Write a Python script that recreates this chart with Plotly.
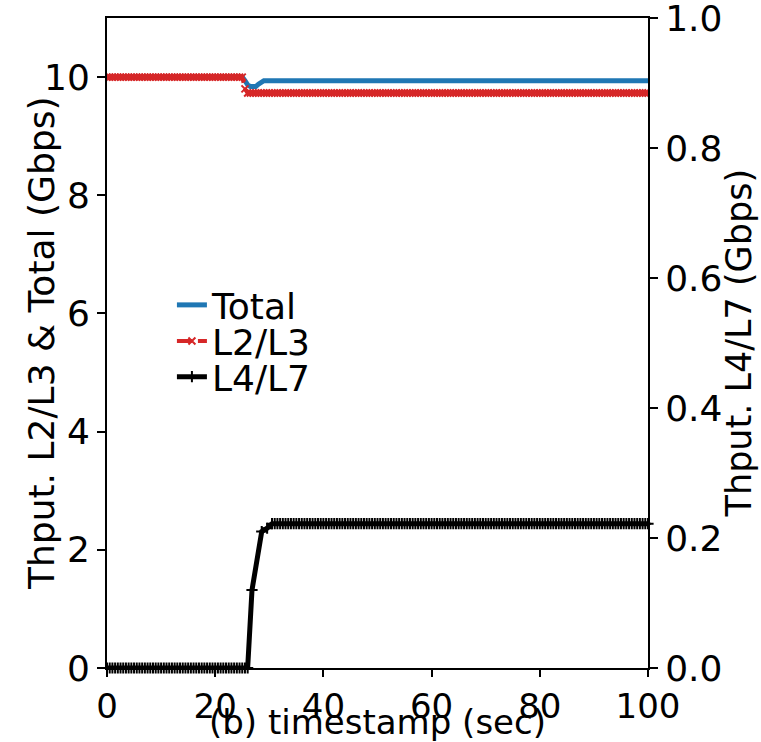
import plotly.graph_objects as go

# ---- data ----
t_main = [i * 0.5 for i in range(201)]  # 0 .. 100 s, sampled every 0.5 s

total = [10.0] * 51 + [9.94, 9.87, 9.84, 9.84, 9.84, 9.88, 9.92] + [9.94] * 143
l2l3 = [10.0] * 51 + [9.80] + [9.73] * 149

t_l4 = [i * 0.5 for i in range(53)] + [26.8, 28.6, 29.6] + [30.5 + i * 0.5 for i in range(140)]
l4l7 = [0.0] * 53 + [0.12, 0.21, 0.215] + [0.222] * 140

left_ticks = [0, 2, 4, 6, 8, 10]
right_ticks = [0.0, 0.2, 0.4, 0.6, 0.8, 1.0]
x_ticks = [0, 20, 40, 60, 80, 100]

FONT = "DejaVu Sans"
BLUE = "#1f77b4"
RED = "#d62728"

fig = go.Figure()
fig.add_trace(go.Scatter(
    x=t_main, y=total, name="Total", mode="lines",
    line=dict(color=BLUE, width=5), legend="legend"))
fig.add_trace(go.Scatter(
    x=t_main, y=l2l3, name="L2/L3", mode="lines+markers",
    line=dict(color=RED, width=4, dash="15px,6px"),
    marker=dict(symbol="x-thin", size=7, line=dict(color=RED, width=2), color=RED),
    legend="legend2"))
fig.add_trace(go.Scatter(
    x=t_l4, y=l4l7, name="L4/L7", mode="lines+markers", yaxis="y2",
    line=dict(color="black", width=5),
    marker=dict(symbol="cross-thin", size=8, line=dict(color="black", width=2), color="black"),
    cliponaxis=False, legend="legend3"))

axis_common = dict(
    showgrid=False, zeroline=False, showline=True, linecolor="black", linewidth=2,
    ticks="outside", ticklen=8, tickwidth=2, tickcolor="black",
    tickfont=dict(family=FONT, size=36, color="black"),
    ticklabeloverflow="allow", automargin=False,
)
x_axis_style = dict(axis_common)
x_axis_style["tickfont"] = dict(family=FONT, size=34, color="black")
x_axis_style["ticklen"] = 7

leg_common = dict(
    x=0.12, xanchor="left", yanchor="middle", bgcolor="rgba(0,0,0,0)",
    font=dict(family=FONT, size=36, color="black"), borderwidth=0,
)

fig.update_layout(
    width=761, height=742,
    margin=dict(l=107, r=113, t=18, b=74),
    paper_bgcolor="white", plot_bgcolor="white",
    showlegend=True,
    xaxis=dict(range=[0, 100], tickvals=x_ticks, mirror=True, **x_axis_style),
    yaxis=dict(range=[0, 11], tickvals=left_ticks, **axis_common),
    yaxis2=dict(range=[0, 1.00001], tickvals=right_ticks, tickformat=".1f",
                overlaying="y", side="right", **axis_common),
    legend=dict(y=0.5585, **leg_common),
    legend2=dict(y=0.503, **leg_common),
    legend3=dict(y=0.448, **leg_common),
    annotations=[
        dict(text="Thput. L2/L3 & Total (Gbps)", xref="paper", yref="paper",
             x=-0.122, y=0.5, xanchor="center", yanchor="middle", textangle=-90,
             showarrow=False, font=dict(family=FONT, size=36, color="black")),
        dict(text="Thput. L4/L7 (Gbps)", xref="paper", yref="paper",
             x=1.169, y=0.5, xanchor="center", yanchor="middle", textangle=-90,
             showarrow=False, font=dict(family=FONT, size=35, color="black")),
        dict(text="(b) timestamp (sec)", xref="paper", yref="paper",
             x=0.5, y=-0.0833, xanchor="center", yanchor="middle",
             showarrow=False, font=dict(family=FONT, size=34, color="black")),
    ],
)

fig.write_html("out.html")
